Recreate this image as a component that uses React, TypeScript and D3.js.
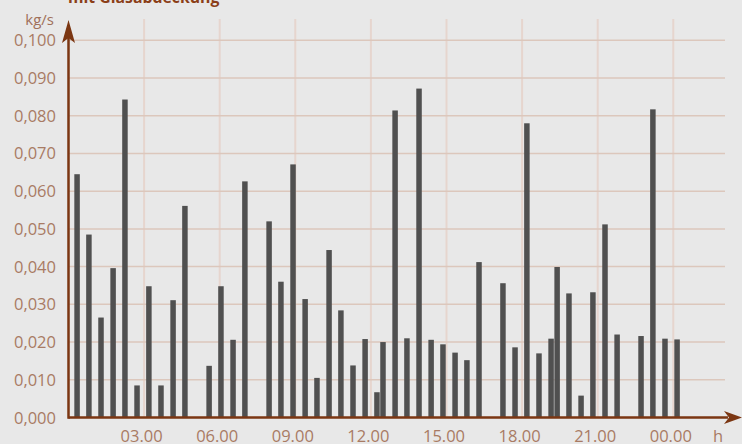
import React, { useEffect, useRef } from 'react';
import * as d3 from "d3";

// measurement times (decimal hours) and mass flow values (kg/s)
const hours = [
  0.34, 0.81, 1.29, 1.77, 2.24, 2.72, 3.19, 3.67, 4.15, 4.62,
  5.58, 6.05, 6.53, 7.0, 7.96, 8.43, 8.91, 9.39, 9.86, 10.34,
  10.81, 11.29, 11.77, 12.24, 12.48, 12.96, 13.43, 13.91, 14.39, 14.86,
  15.34, 15.81, 16.29, 17.24, 17.72, 18.19, 18.67, 19.15, 19.39, 19.86,
  20.34, 20.81, 21.29, 21.77, 22.72, 23.19, 23.67, 24.15
];
const massFlow = [
  0.0645, 0.0485, 0.0265, 0.0396, 0.0843, 0.0085, 0.0348, 0.0085, 0.0311, 0.0561,
  0.0137, 0.0348, 0.0206, 0.0626, 0.0520, 0.0360, 0.0671, 0.0314, 0.0105, 0.0444,
  0.0284, 0.0138, 0.0208, 0.0067, 0.0200, 0.0814, 0.0210, 0.0872, 0.0206, 0.0194,
  0.0172, 0.0152, 0.0412, 0.0356, 0.0186, 0.0780, 0.0170, 0.0209, 0.0399, 0.0329,
  0.0058, 0.0332, 0.0512, 0.0220, 0.0216, 0.0817, 0.0209, 0.0207
];
const yTicks = [0, 0.01, 0.02, 0.03, 0.04, 0.05, 0.06, 0.07, 0.08, 0.09, 0.1];
const xTicks = [3, 6, 9, 12, 15, 18, 21, 24];
const xTickLabels = ["03.00", "06.00", "09.00", "12.00", "15.00", "18.00", "21.00", "00.00"];

const title = "mit Glasabdeckung";
const yUnit = "kg/s";
const xUnit = "h";

const width = 742, height = 444;
const font = "'Open Sans', 'Noto Sans', sans-serif";

export default function App() {
  const ref = useRef(null);

  useEffect(() => {
    document.body.style.margin = "0";
    const svg = d3.select(ref.current);
    svg.selectAll("*").remove();

    var x = d3.scaleLinear().domain([0, 24]).range([68.5, 673.3]);
    var y = d3.scaleLinear().domain([0, 0.1]).range([417.5, 40.3]);

    svg.append("rect")
      .attr("width", width).attr("height", height)
      .attr("fill", "#e8e8e8");

    // vertical grid
    svg.selectAll(".vgrid")
      .data(xTicks)
      .enter().append("line")
        .attr("class", "vgrid")
        .attr("x1", d => x(d)).attr("x2", d => x(d))
        .attr("y1", 19).attr("y2", y(0))
        .attr("stroke", "#e6d5ce")
        .attr("stroke-width", 2);

    // horizontal grid
    svg.selectAll(".hgrid")
      .data(yTicks.filter(d => d > 0))
      .enter().append("line")
        .attr("class", "hgrid")
        .attr("x1", x(0)).attr("x2", 725)
        .attr("y1", d => y(d)).attr("y2", d => y(d))
        .attr("stroke", "#dcc7bc")
        .attr("stroke-width", 1.5);

    // bars
    var barWidth = 5.5;
    svg.selectAll(".bar")
      .data(d3.zip(hours, massFlow))
      .enter().append("rect")
        .attr("class", "bar")
        .attr("x", d => x(d[0]) - barWidth / 2)
        .attr("y", d => y(d[1]))
        .attr("width", barWidth)
        .attr("height", d => y(0) - y(d[1]))
        .attr("fill", "#505050");

    // axes
    var axisColor = "#7b3612";
    svg.append("line")
      .attr("x1", x(0)).attr("x2", 728)
      .attr("y1", y(0)).attr("y2", y(0))
      .attr("stroke", axisColor).attr("stroke-width", 2.5);
    svg.append("line")
      .attr("x1", x(0)).attr("x2", x(0))
      .attr("y1", y(0) + 1.2).attr("y2", 38)
      .attr("stroke", axisColor).attr("stroke-width", 2.5);

    // arrow heads
    var ax = x(0), ay = y(0);
    svg.append("path")
      .attr("d", `M${ax},20 L${ax + 6.5},43 L${ax},38 L${ax - 6.5},43 Z`)
      .attr("fill", axisColor);
    svg.append("path")
      .attr("d", `M742,${ay} L724,${ay - 6.5} L729,${ay} L724,${ay + 6.5} Z`)
      .attr("fill", axisColor);

    // y tick labels
    svg.selectAll(".ylabel")
      .data(yTicks)
      .enter().append("text")
        .attr("class", "ylabel")
        .attr("x", 56)
        .attr("y", d => y(d) + 6)
        .attr("text-anchor", "end")
        .attr("font-family", font)
        .attr("font-size", 16.5)
        .attr("fill", "#a87b64")
        .text(d => d3.format(".3f")(d).replace(".", ","));

    // x tick labels
    svg.selectAll(".xlabel")
      .data(xTicks)
      .enter().append("text")
        .attr("class", "xlabel")
        .attr("x", d => x(d) - 2.5)
        .attr("y", 441.5)
        .attr("text-anchor", "middle")
        .attr("font-family", font)
        .attr("font-size", 16.5)
        .attr("fill", "#a87b64")
        .text((d, i) => xTickLabels[i]);

    svg.append("text")
      .attr("x", 54).attr("y", 25)
      .attr("text-anchor", "end")
      .attr("font-family", font)
      .attr("font-size", 15)
      .attr("fill", "#a0705a")
      .text(yUnit);

    svg.append("text")
      .attr("x", 718).attr("y", 441.5)
      .attr("text-anchor", "middle")
      .attr("font-family", font)
      .attr("font-size", 16.5)
      .attr("fill", "#a87b64")
      .text(xUnit);

    svg.append("text")
      .attr("x", 68).attr("y", 3)
      .attr("font-family", font)
      .attr("font-size", 15.8)
      .attr("font-weight", "bold")
      .attr("fill", "#8b3e18")
      .text(title);
  }, []);

  return (
    <svg ref={ref} width={width} height={height} style={{ display: "block" }} />
  );
}
